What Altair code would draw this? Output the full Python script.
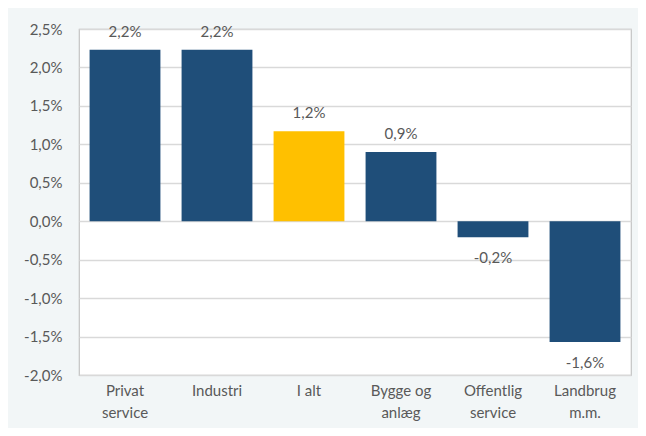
import altair as alt
import pandas as pd

categories = ["Privat\nservice", "Industri", "I alt", "Bygge og\nanlæg", "Offentlig\nservice", "Landbrug\nm.m."]
values = [0.0223, 0.0223, 0.0117, 0.0090, -0.0021, -0.0157]
highlight = [False, False, True, False, False, False]
ticks = [-0.02, -0.015, -0.01, -0.005, 0, 0.005, 0.01, 0.015, 0.02, 0.025]

df = pd.DataFrame({"cat": categories, "value": values, "hl": highlight})

FONT = "Lato"
TXT = "#595959"
FMT = "replace(replace(format(datum.value, '.1%'), '.', ','), '\u2212', '-')"

base = alt.Chart(df).transform_calculate(lab=FMT)

x = alt.X("cat:N", sort=categories, title=None,
          scale=alt.Scale(paddingInner=0.23, paddingOuter=0.115),
          axis=alt.Axis(labelAngle=0, labelExpr="split(datum.label, '\\n')",
                        labelFontSize=15, labelColor=TXT, labelFont=FONT,
                        labelPadding=8, labelLineHeight=22, ticks=False,
                        domain=False, labelBaseline="top"))
y = alt.Y("value:Q", title=None,
          scale=alt.Scale(domain=[-0.02, 0.025], nice=False),
          axis=alt.Axis(values=ticks, tickCount=10, labelOverlap=False,
                        labelExpr=FMT,
                        labelFontSize=15, labelColor=TXT, labelFont=FONT,
                        labelPadding=17, ticks=False, domain=False,
                        gridColor="#d9d9d9", gridWidth=1.5))

bars = base.mark_bar().encode(
    x=x, y=y,
    color=alt.Color("hl:N", scale=alt.Scale(domain=[False, True], range=["#1f4e79", "#ffc000"]), legend=None),
)

pos = base.transform_filter("datum.value >= 0").mark_text(
    dy=-18, baseline="middle", fontSize=15, font=FONT, color=TXT
).encode(x=alt.X("cat:N", sort=categories), y="value:Q", text="lab:N")

neg = base.transform_filter("datum.value < 0").mark_text(
    dy=21, baseline="middle", fontSize=15, font=FONT, color=TXT
).encode(x=alt.X("cat:N", sort=categories), y="value:Q", text="lab:N")

chart = alt.layer(bars, pos, neg).properties(
    width=552, height=346,
    autosize=alt.AutoSizeParams(type="none"),
    padding={"left": 71, "top": 21, "right": 7, "bottom": 53},
    background="#f2f6f7",
).configure_view(stroke="#c4c4c4", strokeWidth=1.2, fill="white")

chart.save("out.html", embed_options={"renderer": "svg", "actions": False})
